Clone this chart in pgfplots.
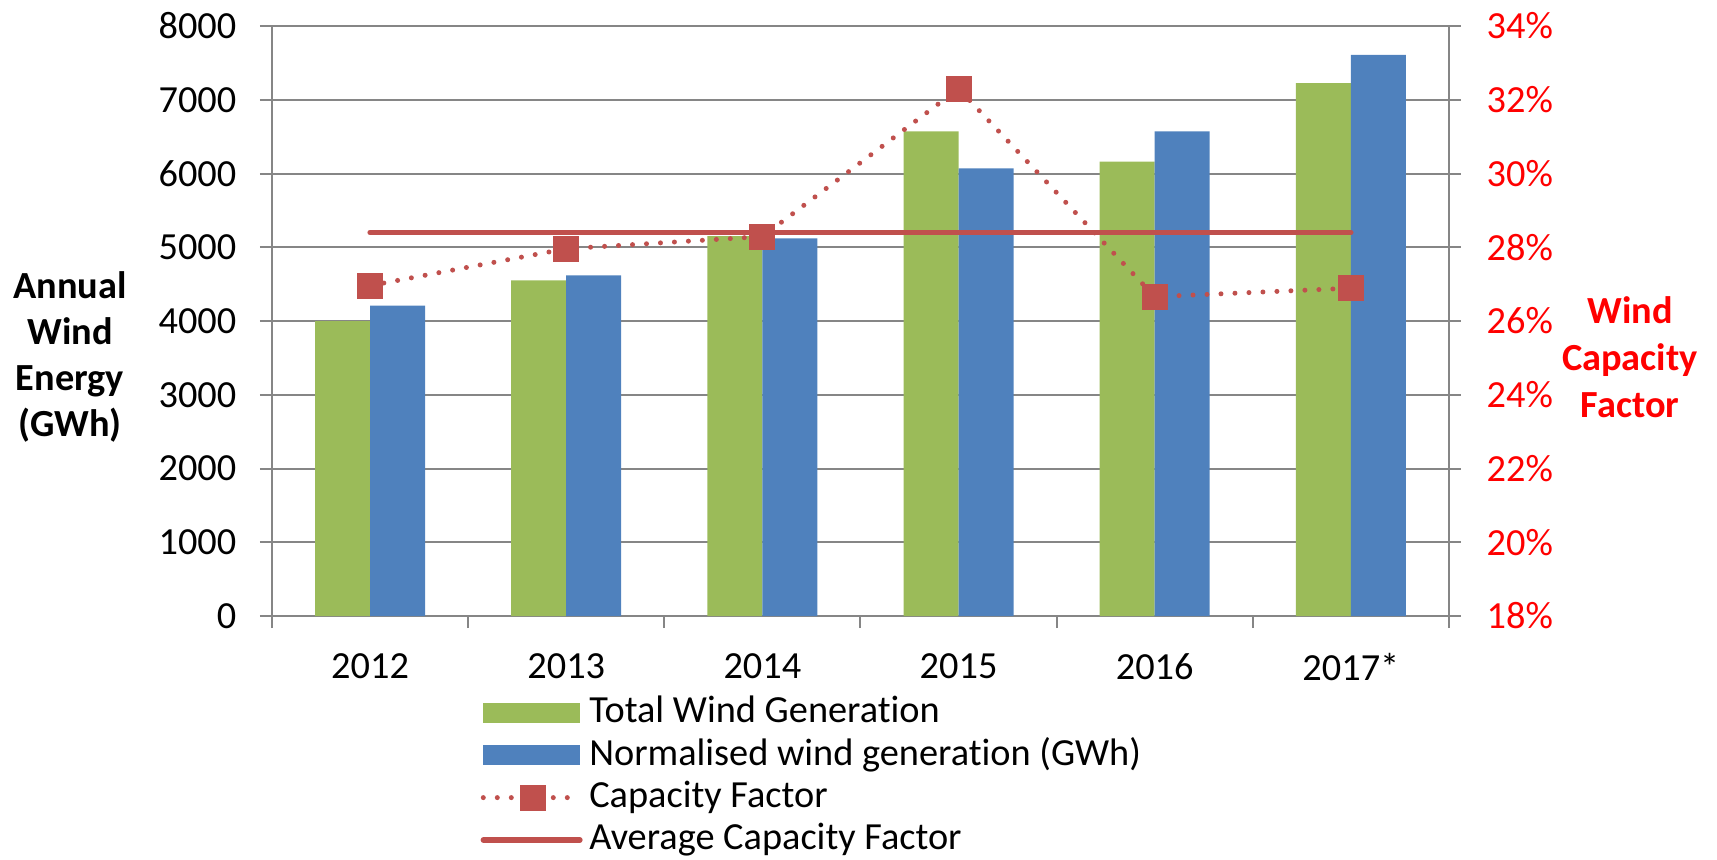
\documentclass[border=0pt]{standalone}
\usepackage{pgfplots}
\pgfplotsset{compat=1.18}
\usepackage{fontspec}
\setmainfont{Carlito}[Ligatures=NoCommon]
\definecolor{cgreen}{HTML}{9BBB59}
\definecolor{cblue}{HTML}{4F81BD}
\definecolor{cred}{HTML}{C0504D}
\definecolor{cgrid}{RGB}{134,134,134}
\definecolor{pred}{HTML}{FF0000}
\pgfplotsset{
  barleg/.style={legend image code/.code={\fill[##1] (0pt,-3pt) rectangle (29pt,3pt);}},
  dotleg/.style={legend image code/.code={\draw[##1, mark repeat=2, mark phase=2] plot coordinates {(0pt,0pt) (15pt,0pt) (29pt,0pt)};}},
  lineleg/.style={legend image code/.code={\draw[##1] (0pt,0pt) -- (29pt,0pt);}},
}
\begin{document}
\fontsize{11.5pt}{13.8pt}\selectfont
\begin{tikzpicture}
\path[use as bounding box] (-81.6pt,-72.9pt) rectangle (433.5pt,184.8pt);
\begin{axis}[
  name=ax, at={(0pt,0pt)}, anchor=south west,
  scale only axis, width=353.1pt, height=177pt,
  xmin=-0.5, xmax=5.5, ymin=0, ymax=8000,
  xtick={-0.5,0.5,...,5.5},
  xticklabels={2012,2013,2014,2015,2016,2017*},
  x tick label as interval,
  xtick pos=bottom, ytick pos=left,
  ytick={0,1000,...,8000},
  tick align=outside, major tick length=3.6pt,
  ymajorgrids, grid style={cgrid, line width=0.6pt},
  axis line style={cgrid, line width=0.6pt},
  every tick/.style={cgrid, line width=0.6pt},
  /pgf/number format/assume math mode=true,
  /pgf/number format/1000 sep={},
  tick label style={font=\fontsize{11.5pt}{13.8pt}\selectfont, inner sep=0pt},
  xticklabel shift=7.5pt,
  yticklabel shift=6.9pt,
  ybar=0pt, bar width=16.5pt,
]
\addplot[fill=cgreen, draw=none] coordinates {(0,4000) (1,4550) (2,5150) (3,6570) (4,6160) (5,7225)};
\addplot[fill=cblue, draw=none] coordinates {(0,4210) (1,4620) (2,5120) (3,6070) (4,6570) (5,7610)};
\end{axis}
\begin{axis}[
  at={(0pt,0pt)}, anchor=south west,
  scale only axis, width=353.1pt, height=177pt,
  xmin=-0.5, xmax=5.5, ymin=18, ymax=34,
  hide x axis,
  ytick pos=right,
  ytick={18,20,...,34},
  tick align=outside, major tick length=3.6pt,
  axis line style={cgrid, line width=0.6pt},
  every tick/.style={cgrid, line width=0.6pt},
  /pgf/number format/assume math mode=true,
  yticklabel={\pgfmathprintnumber{\tick}\%},
  yticklabel style={font=\fontsize{11.5pt}{13.8pt}\selectfont, inner sep=0pt, text=pred},
  yticklabel shift=7.5pt,
  legend style={draw=none, fill=none, at={(0.1767,-0.1335)}, anchor=north west,
    inner sep=0pt, row sep=2.2pt,
    font=\fontsize{11.5pt}{13.8pt}\selectfont,
    nodes={inner sep=0pt, text height=8.2pt, text depth=2.3pt},
    /tikz/every odd column/.append style={column sep=2pt}},
  legend cell align=left,
]
\addlegendimage{fill=cgreen, draw=none, barleg}
\addlegendentry{Total Wind Generation}
\addlegendimage{fill=cblue, draw=none, barleg}
\addlegendentry{Normalised wind generation (GWh)}
\addplot[cred, line width=1.5pt, line cap=round, dash pattern=on 0pt off 4.2pt,
  mark=square*, mark size=3.15pt, mark options={solid, fill=cred, draw=none}, dotleg]
  coordinates {(0,26.96) (1,27.96) (2,28.29) (3,32.3) (4,26.66) (5,26.89)};
\addlegendentry{Capacity Factor}
\addplot[cred, line width=1.6pt, line cap=round, lineleg]
  coordinates {(0,28.4) (5,28.4)};
\addlegendentry{Average Capacity Factor}
\end{axis}
\node[align=center, font=\fontsize{11.5pt}{13.8pt}\selectfont\bfseries] at (-60.6pt,77.7pt) {Annual\\Wind\\Energy\\(GWh)};
\node[align=center, text=pred, font=\fontsize{11.5pt}{14.1pt}\selectfont\bfseries] at (407.4pt,77.7pt) {Wind\\Capacity\\Factor};
\end{tikzpicture}
\end{document}
